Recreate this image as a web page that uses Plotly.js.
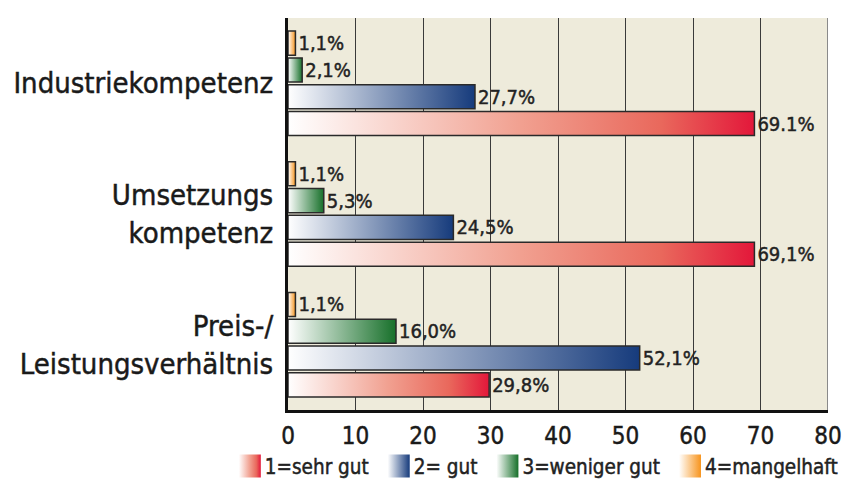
<!DOCTYPE html>
<html>
<head>
<meta charset="utf-8">
<script src="https://cdn.plot.ly/plotly-3.0.1.min.js"></script>
<style>
html,body{margin:0;padding:0;background:#fff;}
#chart{width:843px;height:482px;}
</style>
</head>
<body>
<div id="chart"></div>
<script>
// Categories (top to bottom)
const categories = ['Industriekompetenz', 'Umsetzungs<br>kompetenz', 'Preis-/<br>Leistungsverhältnis'];
// Series values (%)
const sehrGut = [69.1, 69.1, 29.8];
const gut = [27.7, 24.5, 52.1];
const wenigerGut = [2.1, 5.3, 16.0];
const mangelhaft = [1.1, 1.1, 1.1];
// Value labels as printed
const sehrGutLabels = ['69.1%', '69,1%', '29,8%'];
const gutLabels = ['27,7%', '24,5%', '52,1%'];
const wenigerGutLabels = ['2,1%', '5,3%', '16,0%'];
const mangelhaftLabels = ['1,1%', '1,1%', '1,1%'];
const seriesNames = ['1=sehr gut', '2= gut', '3=weniger gut', '4=mangelhaft'];
const xTicks = [0, 10, 20, 30, 40, 50, 60, 70, 80];

const FONT = '"DejaVu Sans Condensed", "Liberation Sans Narrow", "Roboto", sans-serif';
const endColors = ['#e3173a', '#163b7c', '#17702a', '#f7941d'];
// gradient stops (offset, colour) per series: white on the left to full colour on the right
const gradStops = [
  [[0, '#ffffff'], [0.5, '#f1a090'], [0.8, '#e9685c'], [1, '#e3173a']],
  [[0, '#ffffff'], [1, '#163b7c']],
  [[0, '#ffffff'], [1, '#17702a']],
  [[0, '#ffffff'], [1, '#f7941d']]
];

function mk(vals, labels, name, idx) {
  return {
    type: 'bar', orientation: 'h', y: categories, x: vals, name: name,
    text: labels, textposition: 'outside', cliponaxis: false,
    textfont: {family: FONT, size: 20, color: '#222'},
    marker: {color: endColors[idx], line: {color: '#2a2a2a', width: 1.5}},
    hoverinfo: 'none'
  };
}

const data = [
  mk(mangelhaft, mangelhaftLabels, seriesNames[3], 3),
  mk(wenigerGut, wenigerGutLabels, seriesNames[2], 2),
  mk(gut, gutLabels, seriesNames[1], 1),
  mk(sehrGut, sehrGutLabels, seriesNames[0], 0)
];

const layout = {
  width: 843, height: 482,
  margin: {l: 288, r: 15, t: 18, b: 72, autoexpand: false},
  paper_bgcolor: '#ffffff',
  plot_bgcolor: '#eeebdb',
  barmode: 'group', bargap: 0.18, bargroupgap: 0.1,
  font: {family: FONT, color: '#1a1a1a'},
  showlegend: true,
  legend: {orientation: 'h', x: -0.117, xanchor: 'left', y: -0.143, yanchor: 'middle',
    traceorder: 'reversed', font: {family: FONT, size: 20.5, color: '#222'},
    itemwidth: 30, bgcolor: 'rgba(0,0,0,0)'},
  xaxis: {range: [0, 80], tickvals: xTicks, ticktext: xTicks.map(String),
    showgrid: true, gridcolor: '#3a3a3a', gridwidth: 1,
    showline: true, linecolor: '#111', linewidth: 3, zeroline: false,
    ticks: '', ticklabelstandoff: 2,
    tickfont: {family: FONT, size: 24, color: '#1a1a1a'}, fixedrange: true},
  yaxis: {autorange: 'reversed', showgrid: false, showline: true, linecolor: '#111', linewidth: 3,
    ticks: '', ticklabelstandoff: 6,
    tickfont: {family: FONT, size: 29, color: '#1a1a1a'}, fixedrange: true},
  shapes: [{type: 'line', xref: 'x', yref: 'paper', x0: 80, x1: 80, y0: 0, y1: 1,
    line: {color: '#8a8a8a', width: 2}}]
};

Plotly.newPlot('chart', data, layout, {displayModeBar: false, staticPlot: true}).then(function (gd) {
  const svg = gd.querySelector('svg.main-svg');
  const ns = 'http://www.w3.org/2000/svg';
  let defs = svg.querySelector('defs');
  if (!defs) { defs = document.createElementNS(ns, 'defs'); svg.insertBefore(defs, svg.firstChild); }
  const map = [3, 2, 1, 0];
  gradStops.forEach(function (stops, i) {
    const g = document.createElementNS(ns, 'linearGradient');
    g.setAttribute('id', 'grad' + i);
    g.setAttribute('x1', '0'); g.setAttribute('y1', '0'); g.setAttribute('x2', '1'); g.setAttribute('y2', '0');
    stops.forEach(function (s) {
      const st = document.createElementNS(ns, 'stop');
      st.setAttribute('offset', String(s[0])); st.setAttribute('stop-color', s[1]);
      g.appendChild(st);
    });
    defs.appendChild(g);
  });
  gd.querySelectorAll('.barlayer .trace').forEach(function (t, ti) {
    t.querySelectorAll('.point path').forEach(function (p) { p.style.fill = 'url(#grad' + map[ti] + ')'; });
  });
  gd.querySelectorAll('.legend .traces').forEach(function (lt) {
    const d = lt.__data__;
    let idx = null;
    if (d && d[0] && d[0].trace) idx = map[d[0].trace.index];
    lt.querySelectorAll('.legendpoints path').forEach(function (p) {
      if (idx !== null) p.style.fill = 'url(#grad' + idx + ')';
      p.style.stroke = 'none';
      p.setAttribute('d', 'M16,11.5H-6V-11.5H16Z');
    });
  });
  // slightly heavier text, like the reference's medium-weight face
  gd.querySelectorAll('text').forEach(function (t) {
    t.style.stroke = t.style.fill || '#1a1a1a';
    t.style.strokeWidth = '0.45px';
  });
});
</script>
</body>
</html>
